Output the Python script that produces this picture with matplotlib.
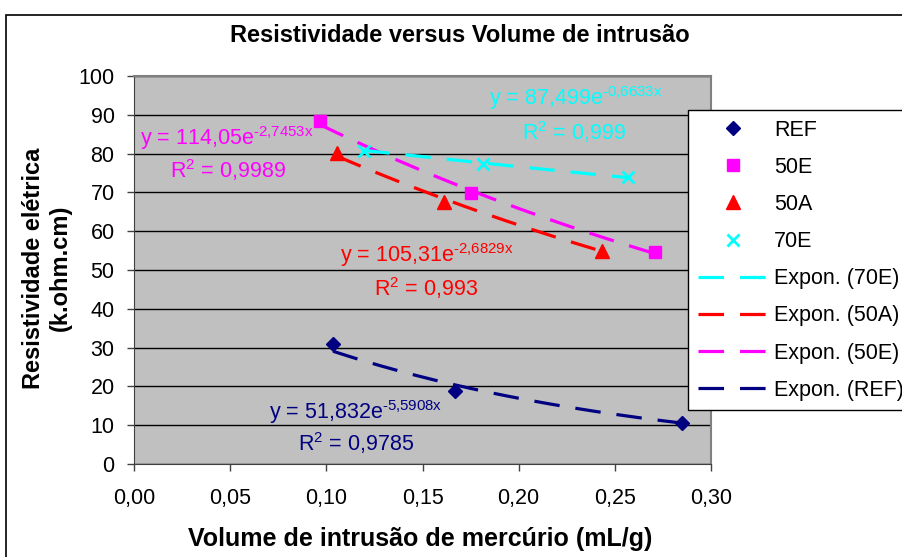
import matplotlib
matplotlib.use('Agg')
import matplotlib.pyplot as plt
from matplotlib.patches import Rectangle
import numpy as np

plt.rcParams['font.family'] = ['Liberation Sans', 'DejaVu Sans']
plt.rcParams['mathtext.default'] = 'regular'

# Measured data (volume de intrusão, resistividade)
series = ['REF', '50E', '50A', '70E']
x_ref = [0.1035, 0.167, 0.285]
y_ref = [30.9, 18.8, 10.6]
x_50e = [0.0967, 0.1752, 0.271]
y_50e = [88.4, 69.8, 54.6]
x_50a = [0.1056, 0.161, 0.2434]
y_50a = [80.2, 67.5, 54.9]
x_70e = [0.1196, 0.1815, 0.2569]
y_70e = [80.7, 77.3, 74.0]

# Exponential trendline coefficients shown on the chart: y = a*exp(b*x)
coef_a = {'REF': 51.832, '50E': 114.05, '50A': 105.31, '70E': 87.499}
coef_b = {'REF': -5.5908, '50E': -2.7453, '50A': -2.6829, '70E': -0.6633}
coef_a_txt = {'REF': '51,832', '50E': '114,05', '50A': '105,31', '70E': '87,499'}
coef_b_txt = {'REF': '5{,}5908x', '50E': '2{,}7453x', '50A': '2{,}6829x', '70E': '0{,}6633x'}
r2_txt = {'REF': '0,9785', '50E': '0,9989', '50A': '0,993', '70E': '0,999'}

xdata = {'REF': x_ref, '50E': x_50e, '50A': x_50a, '70E': x_70e}
ydata = {'REF': y_ref, '50E': y_50e, '50A': y_50a, '70E': y_70e}
colors = {'REF': '#000080', '50E': '#FF00FF', '50A': '#FF0000', '70E': '#00FFFF'}
markers = {'REF': 'D', '50E': 's', '50A': '^', '70E': 'x'}
msizes = {'REF': 7.5, '50E': 8.5, '50A': 9.5, '70E': 9}

W, H = 902, 557
fig = plt.figure(figsize=(W / 100, H / 100), dpi=100)
fig.patch.set_facecolor('white')

def px(x0, y0):
    return x0 / W, 1 - y0 / H

ax = fig.add_axes([134 / W, 1 - 464 / H, (711 - 134) / W, (464 - 76) / H])
ax.set_facecolor('#C0C0C0')

handles = []
for s in series:
    h, = ax.plot(xdata[s], ydata[s], linestyle='none', marker=markers[s],
                 color=colors[s], markersize=msizes[s],
                 markeredgewidth=2 if s == '70E' else 1, label=s, zorder=4)
    handles.append(h)

trend = {}
for s in series:
    xs = np.linspace(min(xdata[s]), max(xdata[s]), 200)
    ys = coef_a[s] * np.exp(coef_b[s] * xs)
    t, = ax.plot(xs, ys, color=colors[s], lw=2.3, linestyle=(0, (8.0, 5.0)),
                 label=f'Expon. ({s})', zorder=3)
    trend[s] = t

for s in ['70E', '50A', '50E', 'REF']:
    handles.append(trend[s])

ax.set_xlim(0, 0.30)
ax.set_ylim(0, 100)
ax.set_xticks(np.arange(0, 0.301, 0.05))
ax.set_yticks(np.arange(0, 101, 10))
ax.set_xticklabels([f'{v:.2f}'.replace('.', ',') for v in np.arange(0, 0.301, 0.05)])
ax.tick_params(axis='both', labelsize=15.5, direction='out', length=5, width=1, color='#404040')
ax.tick_params(axis='x', pad=12)
ax.tick_params(axis='y', pad=9)
ax.yaxis.grid(True, color='black', lw=1)
ax.set_axisbelow(True)
for side in ['top', 'right']:
    ax.spines[side].set_color('#808080')
    ax.spines[side].set_linewidth(1.5)
for side in ['left', 'bottom']:
    ax.spines[side].set_color('#404040')

# Trendline equations
eq_pos = {'50E': ((227, 138), (228, 170)),
          '70E': ((576, 98), (574, 132)),
          '50A': ((427, 255), (426, 288)),
          'REF': ((356, 412), (356, 443))}
for s, (p1, p2) in eq_pos.items():
    fig.text(*px(*p1), f'y = {coef_a_txt[s]}e$^{{\u2010{coef_b_txt[s]}}}$', color=colors[s],
             fontsize=15.5, ha='center', va='center')
    fig.text(*px(*p2), f'R$^2$ = {r2_txt[s]}', color=colors[s],
             fontsize=15.5, ha='center', va='center')

fig.text(*px(460, 36), 'Resistividade versus Volume de intrusão', fontsize=17,
         fontweight='bold', ha='center', va='center')
fig.text(*px(420, 539), 'Volume de intrusão de mercúrio (mL/g)', fontsize=18,
         fontweight='bold', ha='center', va='center')
fig.text(*px(47, 268), 'Resistividade elétrica\n(k.ohm.cm)', fontsize=17,
         fontweight='bold', ha='center', va='center', rotation=90, linespacing=1.2)

leg = fig.legend(handles=handles, labels=[h.get_label() for h in handles],
                 loc='upper left', bbox_to_anchor=px(688, 110), fontsize=15.5,
                 frameon=True, fancybox=False, edgecolor='black', framealpha=1,
                 handlelength=3.3, handletextpad=0.25, labelspacing=0.75,
                 borderpad=0.45, borderaxespad=0)
leg.get_frame().set_linewidth(1)

# Outer chart border
fig.patches.append(Rectangle(px(6, 600), 2, (600 - 15) / H, transform=fig.transFigure,
                             fill=False, edgecolor='black', lw=1.2))

fig.savefig('out.png', dpi=100)
